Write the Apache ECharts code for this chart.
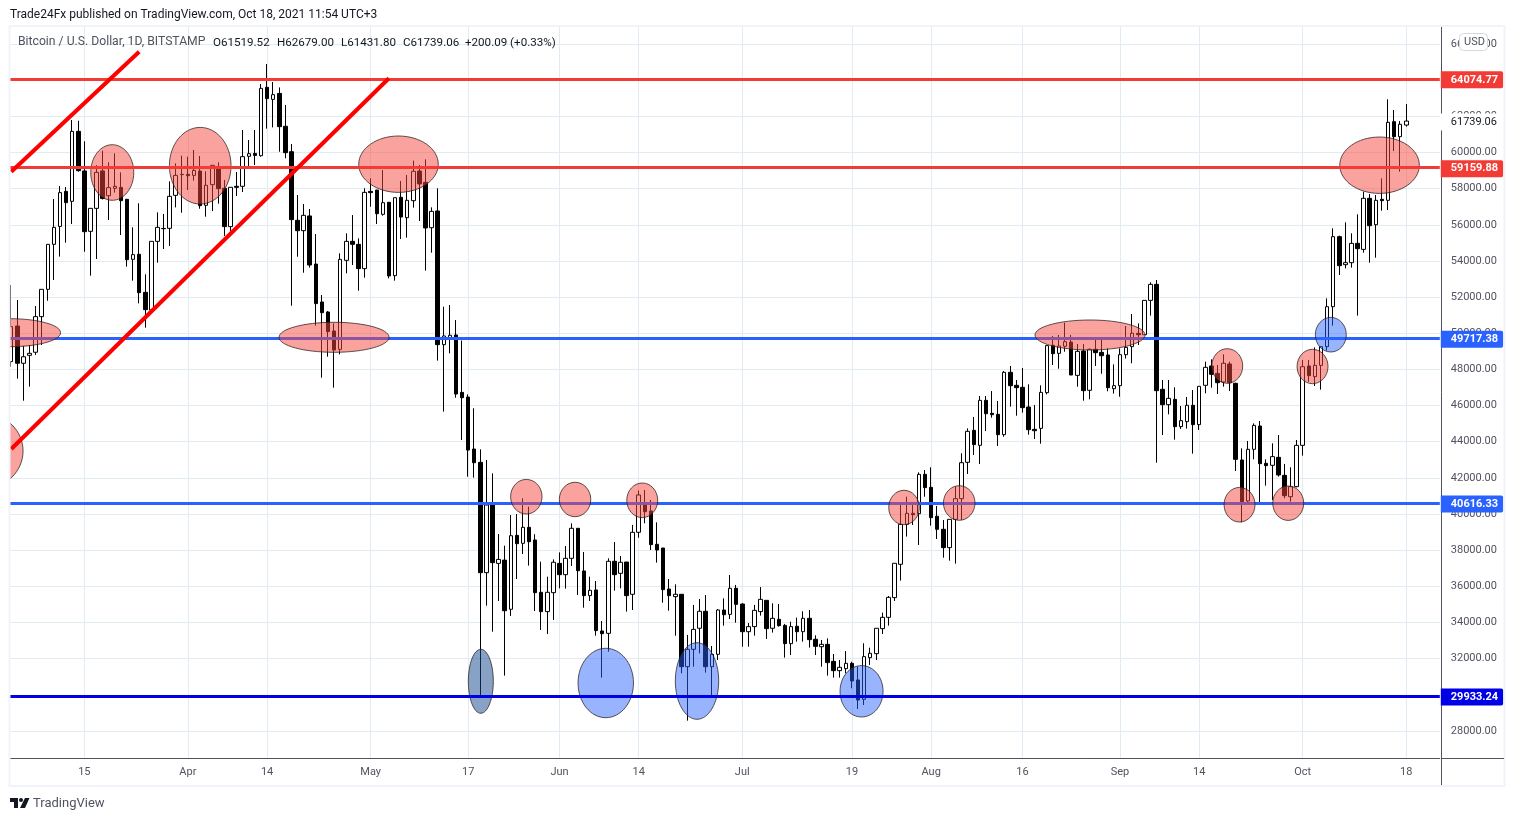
<!DOCTYPE html>
<html>
<head>
<meta charset="utf-8">
<title>BTCUSD</title>
<script src="https://cdn.jsdelivr.net/npm/echarts@6/dist/echarts.min.js"></script>
<style>
  html, body { margin: 0; padding: 0; background: #fff; }
  #chart { width: 1515px; height: 821px; }
</style>
</head>
<body>
<div id="chart"></div>
<script>
// daily candles. index 0 = 2021-03-03, index 229 = 2021-10-18
var opens = [
  48430,50400,48340,48780,48950,50920,52430,54920,55910,57850,
  57300,61170,58980,55640,56910,58980,57610,58020,58070,57410,
  54090,54370,52265,51285,55085,55800,55805,57630,58790,58790,
  58735,58975,57080,58220,59100,58020,55900,58130,58130,59790,
  59950,59825,63605,62940,63270,61450,60045,56250,55675,56490,
  53830,51730,51175,50125,49110,54035,55085,54920,53575,57850,
  57925,56580,57245,53185,57520,56395,57335,58975,58350,55840,
  56765,49370,49700,49905,46730,46470,43597,42860,36755,40500,
  37270,37450,34730,38820,38380,39265,38565,35670,34600,35650,
  37270,36645,37550,39210,36850,35485,35800,33530,33400,37385,
  36720,37345,35560,38990,40500,40170,38325,38120,35850,35430,
  35560,31555,32515,33680,34620,31555,32240,34690,34450,35890,
  35020,33490,33770,34600,35225,33680,34175,33840,32830,33790,
  33490,34230,33070,32660,32790,31850,31335,31445,31740,30820,
  29750,32055,32275,33660,34285,35375,37220,39430,40040,40020,
  42195,41475,39875,39155,38140,39705,40850,42860,44630,43800,
  46290,45570,45515,44390,47840,47120,47010,45920,44685,44740,
  46715,49335,48890,49280,49515,47670,49020,46845,49110,48945,
  48800,46935,47100,48815,49260,49995,49920,51820,52705,46900,
  46050,46345,44835,45110,46015,44945,47120,48190,47780,47305,
  48300,47230,42990,40720,43580,44870,42805,42695,43135,42140,
  40960,41515,43800,48190,47600,48225,49260,51470,55345,53795,
  53905,54975,54640,57465,56005,57410,57355,61705,60875,61519.52
];
var closes = [
  50365,48340,48700,48890,50920,52430,54920,55860,57780,57225,
  61170,58995,55620,56910,58900,57460,58055,58130,57335,54070,
  54350,52245,51305,55085,55860,55785,57575,58735,58775,58715,
  59010,57060,58185,59290,58000,55900,58075,58075,59770,59935,
  59840,63550,62980,63200,61430,59990,56285,55675,56525,53775,
  51640,51140,50090,49075,54090,55085,54920,53575,57795,57780,
  56615,57225,53170,57500,56430,57355,58960,58260,55825,56745,
  49370,49850,49890,46640,46435,43540,42840,36755,40500,37310,
  37490,34650,38800,38360,39265,38470,35650,34600,35670,37330,
  36645,37550,39210,36865,35485,35780,33550,33380,37385,36645,
  37330,35485,38990,41055,40130,38305,38010,35815,35485,35560,
  31555,32515,33620,34620,31555,32240,34690,34430,35890,35005,
  33490,33770,34670,35280,33660,34230,33825,32830,33770,33490,
  34230,33050,32680,32790,31780,31335,31520,31740,30765,29710,
  32110,32295,33680,34285,35390,37275,39430,40040,39965,42195,
  41460,39800,39155,38140,39705,40850,42840,44575,43840,46290,
  45550,45495,44390,47840,47100,46990,45885,44665,44610,46730,
  49315,48870,49295,49535,47690,49000,46825,49110,48925,48760,
  46990,47100,48815,49220,50000,49920,51820,52705,46825,46050,
  46400,44835,45165,46015,44945,47065,48115,47730,47265,48340,
  47265,43025,40685,43580,44905,42785,42675,43175,42160,41015,
  41515,43800,48150,47655,48225,49260,51470,55345,53740,53905,
  54975,54680,57465,55950,57355,57335,61670,60875,61560,61739.06
];
var highs = [
  52670,51840,49300,49350,51510,52430,54920,57430,58150,58090,
  61800,61760,60620,56910,59300,60100,59455,59950,58900,57410,
  55860,57190,53260,55085,56690,56600,58405,59400,59825,59770,
  60140,59805,58960,59290,59455,58480,58075,58920,61245,60690,
  61245,63790,64895,63900,63600,62630,60470,57650,57150,56875,
  55490,52120,51230,50550,54420,55530,56540,55250,58020,58570,
  57925,59030,57245,57500,58425,58755,59550,59310,59620,56965,
  58020,51470,51560,50730,49600,46620,45850,43580,42990,42250,
  38895,38250,39945,40000,40870,40410,38880,37365,36535,37490,
  37880,38230,39485,39210,37900,36535,36295,34080,37550,38450,
  37680,37345,39395,41300,41330,40775,39540,38120,36405,36110,
  35560,33310,34970,35300,35520,32700,34745,35335,36630,36075,
  35060,33970,34970,35960,35225,35060,35020,33920,34045,34270,
  34620,34690,33290,33030,33120,32255,31925,32420,31830,31555,
  32850,32605,33680,34545,35465,37275,40500,40960,40590,42305,
  42435,42585,40445,39670,39705,41515,43360,44740,45370,46530,
  46530,46805,46255,47910,48190,47415,48080,47175,46030,47120,
  49350,49850,49905,50585,49905,49405,49405,49165,49630,49630,
  49165,48280,49165,50400,51065,50550,51820,52820,52945,47415,
  47415,47010,45975,46475,46860,47065,48430,48560,48245,48835,
  48430,47265,43635,44040,45015,45145,43025,43910,44370,42770,
  42585,44095,48520,48520,49220,49260,51930,55805,55400,56135,
  55530,56580,57835,57705,57650,58570,62940,62350,61740,62679
];
var lows = [
  48150,47490,46270,47050,48800,49350,51800,52950,54240,55010,
  56045,58940,54510,53185,54110,57400,56265,57780,55435,53685,
  52910,51655,50310,51285,53905,54660,54830,56965,56670,57925,
  58440,56890,56450,56760,57170,55380,55660,57595,57815,59215,
  59310,59770,61320,61390,60045,59680,51525,54235,53350,53630,
  50420,47545,48705,46990,48835,53315,53775,52355,53075,57000,
  56045,56505,53040,52910,55215,55290,56950,56210,53465,54460,
  48485,45665,48890,46435,44095,42067,42012,29990,34930,33490,
  35190,31060,34360,36405,37790,37145,34635,33585,33365,34140,
  35890,35870,37125,35520,34820,35190,33270,30950,32385,35760,
  35890,34600,34690,38690,39485,38010,37310,35095,34655,33270,
  31190,28570,31555,32290,31225,29990,31925,33825,34190,33990,
  32660,32660,33270,34380,33090,33440,33770,32055,32200,32940,
  32940,32610,32200,31555,31060,30950,30950,31190,30360,29215,
  29435,31650,31925,33365,33825,35190,36315,38750,39395,38285,
  40960,39355,38620,37585,37420,37255,39670,42215,43265,42770,
  44590,45330,43765,44280,45940,45440,45610,44390,44150,43890,
  46620,48245,48040,48980,47690,47045,46270,46345,48190,47765,
  46790,46660,46490,48600,48340,49350,49920,50975,42840,44370,
  45515,44115,44705,44725,43340,44650,46680,46990,46640,47045,
  46805,42380,39540,40590,43025,40630,41570,40775,42070,40870,
  40685,41480,43230,47320,47085,46880,49040,50420,53225,53590,
  53630,50975,54460,53905,54180,56780,56820,60080,58940,61431.80
];

// x axis tick labels
var tickDates = ['03-15','04-01','04-14','05-01','05-17','06-01','06-14','07-01','07-19','08-01','08-16','09-01','09-14','10-01','10-18'];
var tickLabels = ['15','Apr','14','May','17','Jun','14','Jul','19','Aug','16','Sep','14','Oct','18'];
// price axis ticks
var priceTicks = [28000,30000,32000,34000,36000,38000,40000,42000,44000,46000,48000,50000,52000,54000,56000,58000,60000,62000,64000,66000];

// horizontal levels
var levelsUnder = [49717.38, 40616.33];
var levelsRed = [64074.77, 59159.88];
var levelSupport = 29933.24;
var lastClose = 61739.06;

// trend lines: [candle index, price] at each end
var trendUpper = [[0, 58938], [21, 65576]];
var trendLower = [[0, 43597], [62, 64105]];

// marked zones: centre in candle index + price, radius in candles + price
var zoneCentreDay = [16.58,31.02,63.57,52.99,-0.2,-4.3,84.55,92.55,103.58,146.55,155.61,177.08,199.61,201.63,209.62,213.61,224.61, 216.61,97.59,112.57,139.58, 77.08];
var zoneCentrePrice = [58894,59270,59353,49777,50031,43487,40958,40804,40760,40361,40610,49904,48189,40516,40599,48161,59297, 49921,30653,30763,30194, 30747];
var zoneRadiusDay = [3.53,5.06,6.53,9.03,8.3,6.24,2.58,2.58,2.54,2.51,2.59,9.03,2.54,2.54,2.54,2.54,6.53, 2.54,4.55,3.56,3.53, 2.05];
var zoneRadiusPrice = [1538,2119,1560,830,775,2047,957,952,957,952,957,830,957,957,952,952,1560, 957,1920,2119,1422, 1770];
var zoneKind = ['r','r','r','r','r','r','r','r','r','r','r','r','r','r','r','r','r', 'b','b','b','b', 'd'];

var zoneFill = { r: 'rgba(246,70,60,0.5)', b: 'rgba(41,98,255,0.48)', d: 'rgba(15,70,140,0.5)' };

// one category per day, runs a few days past the last candle
var categories = [];
var day = new Date(Date.UTC(2021, 2, 3));
for (var i = 0; i < 235; i++) {
  categories.push(day.toISOString().slice(5, 10));
  day.setUTCDate(day.getUTCDate() + 1);
}

var candles = opens.map(function (o, k) {
  return [o, closes[k], lows[k], highs[k]];
});

var FONT = 'Roboto';
var GREY = '#50535e';
var GRID = '#e1ebf2';

function tagLabel(color) {
  return {
    show: true,
    position: 'end',
    distance: 1,
    offset: [0, 1],
    formatter: function (p) { return p.value.toFixed(2); },
    backgroundColor: color,
    color: '#fff',
    fontFamily: FONT,
    fontSize: 11,
    fontWeight: 'bold',
    padding: [3, 5, 3, 10],
    borderRadius: [0, 2, 2, 0]
  };
}

function levelMarks(values, color, z) {
  return {
    silent: true,
    symbol: 'none',
    z: z,
    animation: false,
    lineStyle: { color: color, width: 3, type: 'solid' },
    label: tagLabel(color),
    emphasis: { disabled: true },
    data: values.map(function (v) { return { yAxis: v }; })
  };
}

var chart = echarts.init(document.getElementById('chart'));

chart.setOption({
  animation: false,
  backgroundColor: '#fff',
  grid: { left: 8.2, width: 1431.6, top: 27, height: 731, containLabel: false },
  xAxis: {
    type: 'category',
    data: categories,
    boundaryGap: true,
    axisLine: { lineStyle: { color: GREY, width: 1 } },
    axisTick: { show: false },
    axisLabel: {
      color: GREY,
      fontFamily: FONT,
      fontSize: 11,
      margin: 9,
      interval: function (idx, v) { return tickDates.indexOf(v) >= 0; },
      formatter: function (v) { return tickLabels[tickDates.indexOf(v)]; }
    },
    splitLine: {
      show: true,
      alignWithLabel: true,
      interval: function (idx, v) { return tickDates.indexOf(v) >= 0; },
      lineStyle: { color: GRID, width: 1 }
    }
  },
  yAxis: {
    type: 'value',
    position: 'right',
    offset: 1,
    min: 26503,
    max: 66943,
    scale: true,
    axisLine: { show: true, lineStyle: { color: GREY, width: 1 } },
    axisTick: { show: false, customValues: priceTicks },
    axisLabel: {
      color: GREY,
      fontFamily: FONT,
      fontSize: 11,
      margin: 10,
      padding: [4, 0, 0, 0],
      customValues: priceTicks,
      formatter: function (v) { return v.toFixed(2); }
    },
    splitLine: { show: true, lineStyle: { color: GRID, width: 1 } }
  },
  series: [
    {
      type: 'candlestick',
      name: 'BTCUSD',
      data: candles,
      barWidth: 4,
      z: 2,
      silent: true,
      itemStyle: { color: '#fff', color0: '#000', borderColor: '#000', borderColor0: '#000', borderWidth: 1 }
    },
    {
      // blue levels sit under the zones
      type: 'line',
      data: [],
      z: 3,
      markLine: levelMarks(levelsUnder, '#2962ff', 3)
    },
    {
      type: 'custom',
      z: 4,
      silent: true,
      clip: true,
      data: zoneCentrePrice.map(function (p, k) { return [0, p, k]; }),
      renderItem: function (params, api) {
        var k = api.value(2);
        var band = api.size([1, 0])[0];
        var c = api.coord([0, zoneCentrePrice[k]]);
        var top = api.coord([0, zoneCentrePrice[k] + zoneRadiusPrice[k]]);
        return {
          type: 'ellipse',
          shape: {
            cx: c[0] + zoneCentreDay[k] * band,
            cy: c[1],
            rx: zoneRadiusDay[k] * band,
            ry: c[1] - top[1]
          },
          style: { fill: zoneFill[zoneKind[k]], stroke: 'rgba(40,30,30,0.75)', lineWidth: 1 }
        };
      }
    },
    {
      type: 'line',
      data: [],
      z: 5,
      markLine: levelMarks(levelsRed, '#f23b35', 5)
    },
    {
      type: 'line',
      data: [],
      z: 5,
      markLine: levelMarks([levelSupport], '#0000e6', 5)
    },
    {
      type: 'line',
      data: trendUpper,
      z: 5,
      silent: true,
      symbol: 'none',
      lineStyle: { color: '#ff0000', width: 4 }
    },
    {
      type: 'line',
      data: trendLower,
      z: 5,
      silent: true,
      symbol: 'none',
      lineStyle: { color: '#ff0000', width: 4 }
    },
    {
      // last price tag, white box with no line
      type: 'line',
      data: [],
      z: 6,
      markLine: {
        silent: true,
        symbol: 'none',
        z: 6,
        lineStyle: { width: 0, color: 'transparent' },
        label: {
          show: true,
          position: 'end',
          distance: 0,
          offset: [0, 1],
          formatter: function (p) { return p.value.toFixed(2); },
          backgroundColor: '#fff',
          color: '#131722',
          fontFamily: FONT,
          fontSize: 11,
          padding: [3, 9, 3, 11]
        },
        data: [{ yAxis: lastClose }]
      }
    }
  ],
  graphic: [
    // hides what runs past the pane on the left
    { type: 'rect', z: 100, shape: { x: 0, y: 0, width: 10, height: 821 }, style: { fill: '#fff' }, silent: true },
    { type: 'rect', z: 101, shape: { x: 9.5, y: 26, width: 1495, height: 760 }, style: { fill: 'none', stroke: '#f0f3fa', lineWidth: 2 }, silent: true },
    { type: 'line', z: 102, shape: { x1: 1441, y1: 758.5, x2: 1504, y2: 758.5 }, style: { stroke: GREY, lineWidth: 1 }, silent: true },
    { type: 'line', z: 102, shape: { x1: 1441.5, y1: 758, x2: 1441.5, y2: 785 }, style: { stroke: GREY, lineWidth: 1 }, silent: true },
    { type: 'text', z: 102, x: 10, y: 9, style: { text: 'Trade24Fx published on TradingView.com, Oct 18, 2021 11:54 UTC+3', fill: '#131722', font: '12px ' + FONT } },
    { type: 'text', z: 102, x: 18, y: 36, style: { text: 'Bitcoin / U.S. Dollar, 1D, BITSTAMP', fill: '#50535e', font: '12.2px ' + FONT } },
    { type: 'text', z: 102, x: 213, y: 37, style: { text: 'O61519.52', fill: '#131722', font: '11.6px ' + FONT } },
    { type: 'text', z: 102, x: 277, y: 37, style: { text: 'H62679.00', fill: '#131722', font: '11.6px ' + FONT } },
    { type: 'text', z: 102, x: 341, y: 37, style: { text: 'L61431.80', fill: '#131722', font: '11.6px ' + FONT } },
    { type: 'text', z: 102, x: 403, y: 37, style: { text: 'C61739.06', fill: '#131722', font: '11.6px ' + FONT } },
    { type: 'text', z: 102, x: 465, y: 37, style: { text: '+200.09 (+0.33%)', fill: '#131722', font: '11.6px ' + FONT } },
    // USD pill
    { type: 'rect', z: 102, shape: { x: 1459.5, y: 33.5, width: 28, height: 17, r: 4 }, style: { fill: '#fff', stroke: '#d6d8e0', lineWidth: 1 }, silent: true },
    { type: 'text', z: 103, x: 1464, y: 37, style: { text: 'USD', fill: '#50535e', font: '11px ' + FONT } },
    // TradingView mark
    { type: 'polygon', z: 102, shape: { points: [[10, 798], [18, 798], [18, 808], [14, 808], [14, 802], [10, 802]] }, style: { fill: '#131722' }, silent: true },
    { type: 'circle', z: 102, shape: { cx: 21, cy: 800, r: 2 }, style: { fill: '#131722' }, silent: true },
    { type: 'polygon', z: 102, shape: { points: [[25, 798], [29.5, 798], [25, 808], [20, 808]] }, style: { fill: '#131722' }, silent: true },
    { type: 'text', z: 102, x: 33, y: 797, style: { text: 'TradingView', fill: '#50535e', font: '13px ' + FONT } }
  ]
});
</script>
</body>
</html>
